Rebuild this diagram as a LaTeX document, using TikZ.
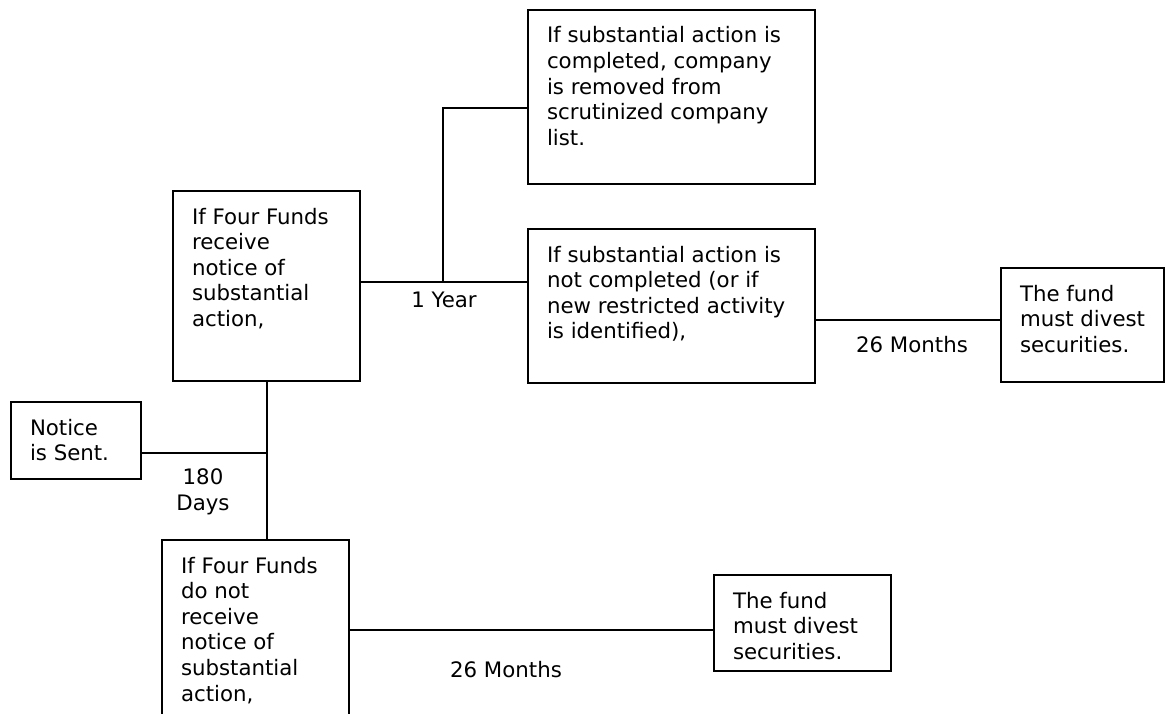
\documentclass[tikz,border=0pt]{standalone}
\usepackage{fontspec}
\setmainfont{DejaVu Sans}
\usepackage{tikz}
\newcommand{\StepText}[3]{\parbox[c][#2][t]{#1}{\raggedright\leftskip=19pt\rule{0pt}{33pt}#3}}
\tikzstyle{NodeStep}=[draw=black,line width=2pt,inner sep=0pt]
\tikzstyle{NodeTime}=[inner sep=0pt]
\tikzstyle{EdgeStep}=[black,line width=2pt]

\begin{document}
\begin{tikzpicture}[x=1pt,y=-1pt,font=\fontsize{21.3}{25.6}\selectfont]
        \useasboundingbox(0,0)rectangle(1165,714);
        \clip(0,0)rectangle(1165,714);
        % boxes
        \node[NodeStep](a)at(266.5,286){\StepText{187pt}{190pt}{If Four Funds\\receive\\notice of\\substantial\\action,}};
        \node[NodeStep](b)at(671.5,97){\StepText{287pt}{174pt}{If substantial action is\\completed, company\\is removed from\\scrutinized company\\list.}};
        \node[NodeStep](c)at(671.5,306){\StepText{287pt}{154pt}{If substantial action is\\not completed (or if\\new restricted activity\\is identified),}};
        \node[NodeStep](d)at(1082.5,325){\StepText{163pt}{114pt}{The fund\\must divest\\securities.}};
        \node[NodeStep](n)at(76,440.5){\StepText{130pt}{77pt}{Notice\\is Sent.}};
        \node[NodeStep](e)at(255.5,650){\StepText{187pt}{220pt}{If Four Funds\\do not\\receive\\notice of\\substantial\\action,}};
        \node[NodeStep](f)at(802.5,623){\StepText{177pt}{96pt}{The fund\\must divest\\securities.}};
        % connectors
        \coordinate(k)at(443,282);
        \coordinate(m)at(443,108);
        \coordinate(p)at(0,320);
        \coordinate(j)at(266.5,453);
        \coordinate(q)at(0,630);
        \draw[EdgeStep](k-|a.east)--(k-|c.west);
        \draw[EdgeStep](k)--(m)--(m-|b.west);
        \draw[EdgeStep](p-|c.east)--(p-|d.west);
        \draw[EdgeStep](a.south)--(a.south|-e.north);
        \draw[EdgeStep](j-|n.east)--(j);
        \draw[EdgeStep](q-|e.east)--(q-|f.west);
        % time labels
        \node[NodeTime,anchor=base](t1)at(444,307){1 Year};
        \node[NodeTime,anchor=base](t2)at(912,352){26 Months};
        \node[NodeTime,anchor=north,align=center](t3)at(203,468.5){180\\Days};
        \node[NodeTime,anchor=base](t4)at(506,677){26 Months};
    \end{tikzpicture}
\end{document}
